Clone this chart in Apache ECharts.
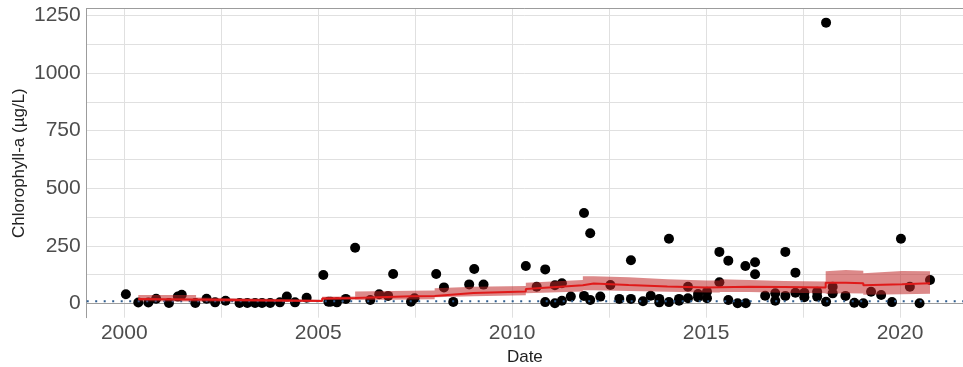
<!DOCTYPE html>
<html>
<head>
<meta charset="utf-8">
<script src="https://cdn.jsdelivr.net/npm/echarts@6/dist/echarts.min.js"></script>
<style>
  html, body { margin: 0; padding: 0; background: #ffffff; }
  #chart { width: 963px; height: 367px; }
</style>
</head>
<body>
<div id="chart"></div>
<script>
// ---- Data ----
const pointYears = [
  2000.04, 2000.36, 2000.62, 2000.82, 2001.15, 2001.38, 2001.48, 2001.83, 2002.12, 2002.34,
  2002.61, 2002.97, 2003.17, 2003.37, 2003.55, 2003.76, 2004.01, 2004.19, 2004.40, 2004.70,
  2005.13, 2005.26, 2005.32, 2005.48, 2005.71, 2005.95, 2006.34, 2006.57, 2006.80, 2006.93,
  2007.39, 2007.48, 2008.04, 2008.24, 2008.48, 2008.89, 2009.02, 2009.26, 2010.35, 2010.63,
  2010.85, 2010.85, 2011.10, 2011.10, 2011.28, 2011.28, 2011.51, 2011.85, 2011.85, 2012.01,
  2012.01, 2012.27, 2012.53, 2012.76, 2013.06, 2013.06, 2013.37, 2013.57, 2013.79, 2013.79,
  2014.04, 2014.04, 2014.30, 2014.30, 2014.53, 2014.53, 2014.79, 2014.79, 2015.02, 2015.02,
  2015.34, 2015.34, 2015.57, 2015.57, 2015.81, 2016.01, 2016.02, 2016.26, 2016.26, 2016.52,
  2016.78, 2016.78, 2017.04, 2017.04, 2017.30, 2017.30, 2017.53, 2017.53, 2017.86, 2017.86,
  2018.09, 2018.09, 2018.26, 2018.26, 2018.59, 2018.82, 2019.05, 2019.25, 2019.51, 2019.79,
  2020.02, 2020.25, 2020.50, 2020.77
];
const pointValues = [
  40, 4, 4, 21, 2, 30, 38, 2, 21, 5,
  12, 2, 2, 2, 2, 2, 5, 30, 5, 25,
  124, 8, 8, 5, 20, 242, 15, 40, 33, 128,
  8, 23, 128, 70, 7, 83, 150, 82, 163, 73,
  148, 6, 1, 79, 88, 12, 30, 393, 33, 305,
  15, 30, 80, 20, 188, 20, 10, 34, 20, 5,
  281, 6, 20, 12, 73, 23, 41, 27, 51, 23,
  224, 92, 186, 15, 1, 163, 1, 179, 127, 34,
  44, 12, 224, 33, 134, 47, 47, 27, 51, 30,
  8, 1219, 73, 44, 33, 3, 1, 51, 37, 6,
  281, 73, 1, 102
];

// Trend (step-like) with confidence band
const trendYears = [2000.36, 2001.85, 2001.85, 2005.10, 2005.10, 2005.95, 2005.95, 2007.40, 2008.00, 2008.00,
  2009.00, 2010.35, 2010.35, 2011.82, 2011.82, 2012.10, 2013.00, 2014.00, 2015.00, 2015.35,
  2015.35, 2016.10, 2017.00, 2018.08, 2018.08, 2018.60, 2019.05, 2019.05, 2020.05, 2020.77];
const trendMid  = [20, 17, 17, 11, 22, 24, 28, 32, 33, 40,
  46, 52, 63, 79, 86, 87, 80, 74, 70, 71,
  76, 73, 72, 70, 90, 90, 88, 79, 84, 88];
const trendHigh = [37, 37, 26, 16, 29, 30, 52, 55, 56, 66,
  73, 76, 90, 102, 118, 118, 114, 105, 100, 100,
  105, 102, 98, 95, 140, 145, 142, 131, 141, 140];
const trendLow  = [10, 9, 9, 6, 15, 16, 15, 17, 18, 27,
  31, 36, 44, 52, 58, 58, 54, 51, 48, 48,
  50, 50, 47, 44, 42, 44, 43, 38, 40, 42];

const thresholdValue = 10;
const xTickLabels = [2000, 2005, 2010, 2015, 2020];
const yTickLabels = [0, 250, 500, 750, 1000, 1250];

// ---- Layout ----
const X_MIN = 1999.03, X_MAX = 2021.62;
const Y_MIN = -61.6, Y_MAX = 1280.4;
const P_LEFT = 86.7, P_RIGHT = 0, P_TOP = 8.5, P_BOTTOM = 49.3;   // plot panel
const T_LEFT = 124.3, T_RIGHT = 63, T_TOP = 15.5, T_BOTTOM = 63.5; // tick extents

const chart = echarts.init(document.getElementById('chart'), null, { renderer: 'canvas' });

const axisLineColor = '#9c9c9c';
const gridColor = '#e0e0e0';
const labelColor = '#4d4d4d';
const fontFam = '"Liberation Sans", Arial, sans-serif';
const hidden = { axisLine: { show: false }, axisTick: { show: false }, axisLabel: { show: false }, splitLine: { show: false } };

const option = {
  animation: false,
  backgroundColor: '#ffffff',
  grid: [
    { left: P_LEFT, right: P_RIGHT, top: P_TOP, bottom: P_BOTTOM, containLabel: false, outerBoundsMode: 'none' },
    { left: P_LEFT, right: P_RIGHT, top: T_TOP, bottom: T_BOTTOM, containLabel: false, outerBoundsMode: 'none' },
    { left: T_LEFT, right: T_RIGHT, top: P_TOP, bottom: P_BOTTOM, containLabel: false, outerBoundsMode: 'none' }
  ],
  xAxis: [
    {
      type: 'value', gridIndex: 0, min: X_MIN, max: X_MAX, position: 'bottom',
      axisLine: { show: true, lineStyle: { color: axisLineColor, width: 1 } },
      axisTick: { show: false }, axisLabel: { show: false }, splitLine: { show: false },
      name: 'Date', nameLocation: 'middle', nameGap: 31,
      nameTextStyle: { fontSize: 17, color: '#222222', fontFamily: fontFam }
    },
    Object.assign({ type: 'value', gridIndex: 1, min: X_MIN, max: X_MAX }, hidden),
    {
      type: 'value', gridIndex: 2, min: xTickLabels[0], max: xTickLabels[xTickLabels.length - 1],
      interval: xTickLabels[1] - xTickLabels[0], position: 'bottom',
      axisLine: { show: false }, axisTick: { show: false },
      axisLabel: { show: true, margin: 5, fontSize: 21, color: labelColor, fontFamily: fontFam,
                   formatter: v => String(v) },
      splitLine: { show: true, lineStyle: { color: gridColor, width: 1 } },
      minorTick: { show: false, splitNumber: 2 },
      minorSplitLine: { show: true, lineStyle: { color: gridColor, width: 1 } }
    },
    {
      type: 'value', gridIndex: 0, min: X_MIN, max: X_MAX, position: 'top',
      axisLine: { show: true, lineStyle: { color: axisLineColor, width: 1 } },
      axisTick: { show: false }, axisLabel: { show: false }, splitLine: { show: false }
    }
  ],
  yAxis: [
    {
      type: 'value', gridIndex: 0, min: Y_MIN, max: Y_MAX,
      axisLine: { show: true, lineStyle: { color: axisLineColor, width: 1 } },
      axisTick: { show: false }, axisLabel: { show: false }, splitLine: { show: false },
      name: 'Chlorophyll-a (µg/L)', nameLocation: 'middle', nameGap: 59,
      nameTextStyle: { fontSize: 17, color: '#222222', fontFamily: fontFam }
    },
    {
      type: 'value', gridIndex: 1, min: yTickLabels[0], max: yTickLabels[yTickLabels.length - 1],
      interval: yTickLabels[1] - yTickLabels[0],
      axisLine: { show: false }, axisTick: { show: false },
      axisLabel: { show: true, margin: 6, fontSize: 21, color: labelColor, fontFamily: fontFam,
                   formatter: v => String(v) },
      splitLine: { show: true, lineStyle: { color: gridColor, width: 1 } },
      minorTick: { show: false, splitNumber: 2 },
      minorSplitLine: { show: true, lineStyle: { color: gridColor, width: 1 } }
    },
    Object.assign({ type: 'value', gridIndex: 2, min: Y_MIN, max: Y_MAX }, hidden)
  ],
  series: [
    {
      name: 'observations', type: 'scatter', xAxisIndex: 0, yAxisIndex: 0,
      data: pointYears.map((x, i) => [x, pointValues[i]]),
      symbol: 'circle', symbolSize: 10,
      itemStyle: { color: '#000000', opacity: 1 }, z: 2, silent: true
    },
    {
      name: 'threshold', type: 'line', xAxisIndex: 0, yAxisIndex: 0,
      data: [[X_MIN, thresholdValue], [X_MAX, thresholdValue]],
      symbol: 'none',
      lineStyle: { color: '#2f5d8f', width: 2, type: [2, 6.5] },
      z: 3, silent: true
    },
    {
      name: 'band', type: 'custom', xAxisIndex: 0, yAxisIndex: 0,
      data: [[trendYears[0], trendMid[0]]],
      renderItem: function (params, api) {
        const pts = [];
        for (let i = 0; i < trendYears.length; i++) pts.push(api.coord([trendYears[i], trendHigh[i]]));
        for (let i = trendYears.length - 1; i >= 0; i--) pts.push(api.coord([trendYears[i], trendLow[i]]));
        return { type: 'polygon', shape: { points: pts }, style: { fill: 'rgba(192,40,40,0.55)' } };
      },
      z: 4, silent: true
    },
    {
      name: 'trend', type: 'line', xAxisIndex: 0, yAxisIndex: 0,
      data: trendYears.map((x, i) => [x, trendMid[i]]),
      symbol: 'none',
      lineStyle: { color: '#e01a1a', width: 2 },
      z: 5, silent: true
    }
  ]
};

chart.setOption(option);
</script>
</body>
</html>
